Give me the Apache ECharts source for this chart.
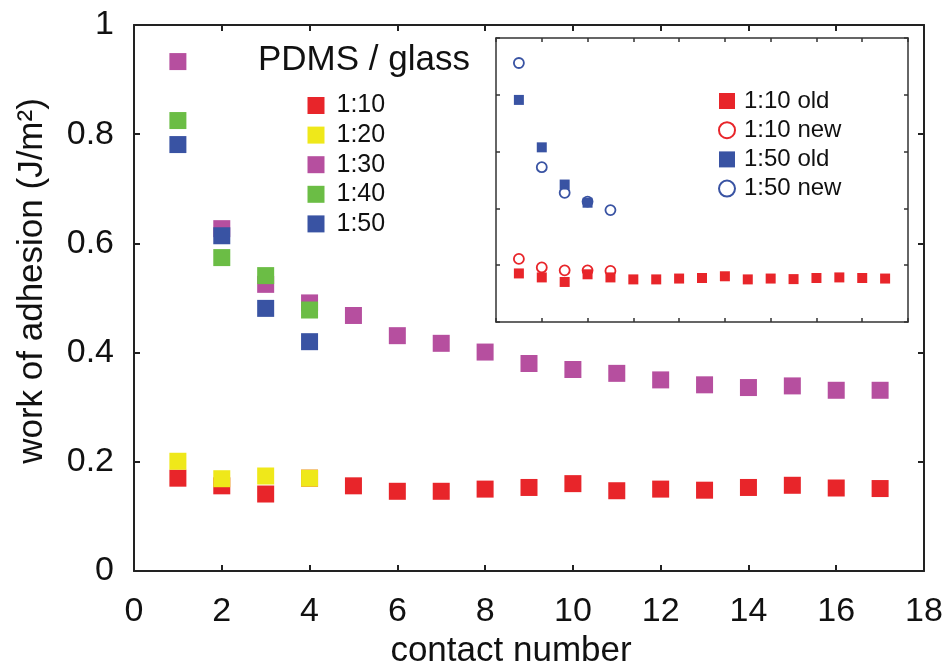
<!DOCTYPE html>
<html>
<head>
<meta charset="utf-8">
<script src="https://cdn.jsdelivr.net/npm/echarts@6/dist/echarts.min.js"></script>
<style>
html,body{margin:0;padding:0;background:#fff;}
#chart{width:952px;height:662px;}
</style>
</head>
<body>
<div id="chart"></div>
<script>
// ---- main plot data (contact number -> work of adhesion, J/m^2) ----
var contacts17 = [1,2,3,4,5,6,7,8,9,10,11,12,13,14,15,16,17];
var contacts4 = [1,2,3,4];
var contacts5 = [1,2,3,4,5];
var ratio10 = [0.170,0.156,0.141,0.170,0.156,0.146,0.146,0.150,0.153,0.160,0.147,0.150,0.148,0.153,0.157,0.152,0.151];
var ratio20 = [0.201,0.169,0.174,0.170];
var ratio30 = [0.933,0.627,0.525,0.491,0.468,0.431,0.417,0.401,0.380,0.369,0.362,0.350,0.341,0.336,0.339,0.331,0.331];
var ratio40 = [0.825,0.574,0.541,0.478];
var ratio50 = [0.781,0.614,0.481,0.420];
// ---- inset data ----
var inset10old = [0.171,0.157,0.141,0.168,0.157,0.150,0.150,0.153,0.155,0.161,0.150,0.153,0.151,0.155,0.157,0.155,0.153];
var inset10new = [0.222,0.192,0.182,0.182,0.180];
var inset50old = [0.782,0.615,0.484,0.420];
var inset50new = [0.912,0.545,0.455,0.424,0.394];
// ---- labels ----
var mainNames = ['1:10','1:20','1:30','1:40','1:50'];
var insetNames = ['1:10 old','1:10 new','1:50 old','1:50 new'];
var xTitle = 'contact number';
var yTitle = 'work of adhesion (J/m²)';
var legendTitle = 'PDMS / glass';

var RED = '#e8252a', YELLOW = '#efe81a', MAG = '#b64f9f', GREEN = '#6bbd45', BLUE = '#3953a3';
var FONT = 'Liberation Sans, Arial, Helvetica, sans-serif';

function pairs(xs, ys){ return ys.map(function(v,i){ return [xs[i], v]; }); }

var chart = echarts.init(document.getElementById('chart'), null, {renderer:'canvas'});

function frameAxis(gridIndex, pos, isX, opts){
  var a = {
    gridIndex: gridIndex, position: pos, type: 'value',
    min: opts.min, max: opts.max, interval: opts.interval,
    axisLine: {show: true, onZero: false, lineStyle: {color: opts.color, width: opts.lw}},
    axisTick: {show: true, inside: true, length: opts.tick, lineStyle: {color: opts.color, width: opts.lw}},
    splitLine: {show: false},
    axisLabel: {show: false}
  };
  if (opts.labels) {
    a.axisLabel = {show: true, color: '#111', fontFamily: FONT, fontSize: 34, margin: 24};
  }
  return a;
}

var mainX = {min:0,max:18,interval:2,color:'#222',lw:2,tick:6};
var mainY = {min:0,max:1,interval:0.2,color:'#222',lw:2,tick:6};
var insX = {min:0,max:18,interval:2,color:'#333',lw:1.5,tick:4};
var insY = {min:0,max:1,interval:0.2,color:'#333',lw:1.5,tick:4};

var xb = frameAxis(0,'bottom',true,Object.assign({labels:true},mainX));
xb.name = xTitle; xb.nameLocation = 'middle'; xb.nameGap = 58;
xb.nameTextStyle = {fontFamily: FONT, fontSize: 35, color:'#111', padding:[0,36,0,0]};
var yl = frameAxis(0,'left',false,Object.assign({labels:true},mainY));
yl.axisLabel.margin = 20;
yl.name = yTitle; yl.nameLocation = 'middle'; yl.nameGap = 84;
yl.nameTextStyle = {fontFamily: FONT, fontSize: 35, color:'#111', padding:[0,0,0,34]};

var option = {
  animation: false,
  backgroundColor: '#fff',
  title: {
    text: legendTitle, left: 258, top: 43, padding: 0,
    textStyle: {fontFamily: FONT, fontSize: 35, fontWeight: 'normal', color: '#111'}
  },
  grid: [
    {left: 134, right: 28, top: 25, bottom: 91, containLabel: false, outerBoundsMode: 'none'},
    {left: 496, right: 44, top: 38, bottom: 340, containLabel: false, outerBoundsMode: 'none', show: true, backgroundColor: '#fff', borderWidth: 0, z: 3}
  ],
  xAxis: [
    xb,
    frameAxis(0,'top',true,mainX),
    Object.assign(frameAxis(1,'bottom',true,insX), {z: 4}),
    Object.assign(frameAxis(1,'top',true,insX), {z: 4})
  ],
  yAxis: [
    yl,
    frameAxis(0,'right',false,mainY),
    Object.assign(frameAxis(1,'left',false,insY), {z: 4}),
    Object.assign(frameAxis(1,'right',false,insY), {z: 4})
  ],
  legend: [
    {
      orient: 'vertical', left: 307.5, top: 93, padding: 0,
      itemWidth: 17, itemHeight: 17, itemGap: 4.6, icon: 'rect',
      textStyle: {fontFamily: FONT, fontSize: 25, color: '#111', padding: [0,0,0,7]},
      data: mainNames
    },
    {
      orient: 'vertical', left: 718, top: 89, padding: 0, z: 5,
      itemWidth: 16, itemHeight: 16, itemGap: 5.2,
      textStyle: {fontFamily: FONT, fontSize: 24, color: '#111', padding: [0,0,0,4]},
      data: [
        {name: insetNames[0], icon: 'rect', itemStyle: {color: RED}},
        {name: insetNames[1], icon: 'circle', itemStyle: {color: '#fff', borderColor: RED, borderWidth: 2}},
        {name: insetNames[2], icon: 'rect', itemStyle: {color: BLUE}},
        {name: insetNames[3], icon: 'circle', itemStyle: {color: '#fff', borderColor: BLUE, borderWidth: 2}}
      ]
    }
  ],
  series: [
    {name: mainNames[0], type:'scatter', xAxisIndex:0, yAxisIndex:0, symbol:'rect', symbolSize:17, itemStyle:{color:RED, opacity:1}, data: pairs(contacts17, ratio10), z: 2},
    {name: mainNames[1], type:'scatter', xAxisIndex:0, yAxisIndex:0, symbol:'rect', symbolSize:17, itemStyle:{color:YELLOW, opacity:1}, data: pairs(contacts4, ratio20), z: 2},
    {name: mainNames[2], type:'scatter', xAxisIndex:0, yAxisIndex:0, symbol:'rect', symbolSize:17, itemStyle:{color:MAG, opacity:1}, data: pairs(contacts17, ratio30), z: 2},
    {name: mainNames[3], type:'scatter', xAxisIndex:0, yAxisIndex:0, symbol:'rect', symbolSize:17, itemStyle:{color:GREEN, opacity:1}, data: pairs(contacts4, ratio40), z: 2},
    {name: mainNames[4], type:'scatter', xAxisIndex:0, yAxisIndex:0, symbol:'rect', symbolSize:17, itemStyle:{color:BLUE, opacity:1}, data: pairs(contacts4, ratio50), z: 2},
    {name: insetNames[0], type:'scatter', xAxisIndex:2, yAxisIndex:2, symbol:'rect', symbolSize:10, itemStyle:{color:RED, opacity:1}, data: pairs(contacts17, inset10old), z: 5},
    {name: insetNames[1], type:'scatter', xAxisIndex:2, yAxisIndex:2, symbol:'circle', symbolSize:10, itemStyle:{color:'rgba(255,255,255,0)', borderColor:RED, borderWidth:1.8, opacity:1}, data: pairs(contacts5, inset10new), z: 5},
    {name: insetNames[2], type:'scatter', xAxisIndex:2, yAxisIndex:2, symbol:'rect', symbolSize:10, itemStyle:{color:BLUE, opacity:1}, data: pairs(contacts4, inset50old), z: 5},
    {name: insetNames[3], type:'scatter', xAxisIndex:2, yAxisIndex:2, symbol:'circle', symbolSize:10, itemStyle:{color:'rgba(255,255,255,0)', borderColor:BLUE, borderWidth:1.8, opacity:1}, data: pairs(contacts5, inset50new), z: 5}
  ]
};
chart.setOption(option);
</script>
</body>
</html>
